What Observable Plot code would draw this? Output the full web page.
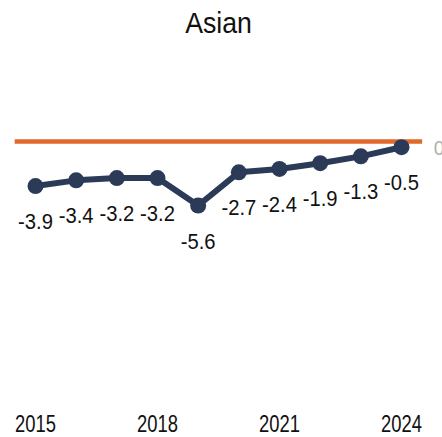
<!DOCTYPE html>
<html>
<head>
<meta charset="utf-8">
<script src="https://cdn.jsdelivr.net/npm/d3@7"></script>
<script src="https://cdn.jsdelivr.net/npm/@observablehq/plot@0.6"></script>
<style>
  html, body { margin: 0; padding: 0; background: #fff; width: 442px; height: 437px; overflow: hidden; }
  #title { height: 50px; line-height: 46px; text-align: center; font-family: "Liberation Sans", Arial, sans-serif; font-size: 30px; color: #111; }
  #title span { display: inline-block; transform: scaleX(0.89); transform-origin: center; margin-left: -4px; }
</style>
</head>
<body>
<div id="title"><span>Asian</span></div>
<div id="chart"></div>
<script>
const years = [2015, 2016, 2017, 2018, 2019, 2020, 2021, 2022, 2023, 2024];
const values = [-3.9, -3.4, -3.2, -3.2, -5.6, -2.7, -2.4, -1.9, -1.3, -0.5];
const xTicks = [2015, 2018, 2021, 2024];
const referenceValue = [0];

const data = years.map((year, i) => ({year, value: values[i]}));
const font = '"Liberation Sans", Arial, sans-serif';

const chart = Plot.plot({
  width: 442,
  height: 387,
  marginTop: 0,
  marginBottom: 30,
  marginLeft: 0,
  marginRight: 0,
  style: {fontFamily: font, fontSize: "22px", color: "#111", background: "#fff", overflow: "visible"},
  x: {type: "linear", domain: [2015, 2024], range: [35, 401], label: null},
  y: {domain: [-5.6, 0], range: [155, 91], label: null, axis: null},
  marks: [
    Plot.ruleY(referenceValue, {y: d => d, x1: 2014.5, x2: 2024.52, stroke: "#e0692b", strokeWidth: 4.5}),
    Plot.text(referenceValue, {y: d => d, x: 2024.79, text: d => String(d), textAnchor: "start", fill: "#b0b0b0", fontSize: 21, dy: 7}),
    Plot.line(data, {x: "year", y: "value", stroke: "#2b3a56", strokeWidth: 6, strokeLinejoin: "round"}),
    Plot.dot(data, {x: "year", y: "value", r: 8, fill: "#2b3a56"}),
    Plot.text(data, {x: "year", y: "value", text: d => d.value.toFixed(1), dy: 36, fill: "#111", fontSize: 22}),
    Plot.axisX({ticks: xTicks, tickFormat: "d", tickSize: 0, tickPadding: 8, fontSize: 23, color: "#111", label: null})
  ]
});
document.getElementById("chart").appendChild(chart);

function condense(selection, s) {
  selection.each(function () {
    const t = this.getAttribute("transform") || "";
    this.setAttribute("transform", `${t} scale(${s},1)`);
  });
}
const svg = d3.select(chart);
condense(svg.selectAll('g[aria-label="text"] text'), 0.92);
condense(svg.selectAll('g[aria-label="x-axis tick label"] text'), 0.8);
</script>
</body>
</html>
